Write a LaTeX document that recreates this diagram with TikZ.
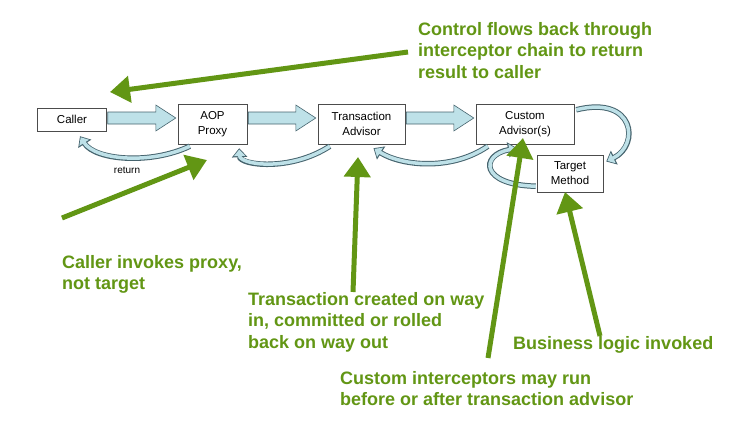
\documentclass[tikz,border=0pt]{standalone}
\usepackage{fontspec}
\setmainfont{Liberation Sans}
\usetikzlibrary{arrows.meta,calc}
\definecolor{grn}{RGB}{98,150,20}
\definecolor{lb}{RGB}{190,225,232}
\definecolor{ol}{RGB}{70,100,110}
\begin{document}
\begin{tikzpicture}[x=1pt,y=-1pt,
 box/.style={draw=black!70,fill=white,align=center,font=\fontsize{11.5}{15}\selectfont,inner sep=2pt},
 note/.style={text=grn,font=\bfseries\fontsize{18}{21.5}\selectfont,align=left,anchor=north west,inner sep=0pt},
 garrow/.style={draw=grn,line width=5pt,-{Triangle[length=20pt,width=26pt]}},
 ret/.style={line width=5.5pt,draw=ol,-{Triangle[length=9pt,width=15pt]}},
 reti/.style={line width=3.5pt,draw=lb,-{Triangle[length=6.5pt,width=11pt]},shorten >=1.3pt},
 blk/.style={fill=lb,draw=ol,line width=0.6pt}]
\useasboundingbox (0,0) rectangle (743,434);
\node[box,minimum width=69pt,minimum height=23pt] (caller) at (72,119.5) {Caller};
\node[box,minimum width=69pt,minimum height=40pt] (aop) at (212.5,124) {AOP\\Proxy};
\node[box,minimum width=87pt,minimum height=40pt] (tx) at (361.5,124) {Transaction\\Advisor};
\node[box,minimum width=98pt,minimum height=40pt] (cust) at (525,124) {Custom\\Advisor(s)};
\node[box,minimum width=66pt,minimum height=37pt] (tgt) at (570,173.5) {Target\\Method};
\node[font=\fontsize{10}{12}\selectfont] (rl) at (127,170) {return};
% block arrows
\foreach \a/\b in {caller/aop,aop/tx,tx/cust}{
 \path let \p1=(\a.east), \p2=(\b.west) in
  [blk] (\x1+1,112) -- (\x2-22,112) -- (\x2-22,105) -- (\x2-2,118) -- (\x2-22,131) -- (\x2-22,124) -- (\x1+1,124) -- cycle;
}
% return arrows
\foreach \s in {ret,reti}{
 \draw[\s] ($(aop.south west)+(12,2)$) .. controls (150,165) and (95,160) .. ($(caller.south)+(8,5)$);
 \draw[\s] ($(tx.south west)+(12,2)$) .. controls (290,172) and (240,165) .. ($(aop.south east)+(-8,4)$);
 \draw[\s] ($(cust.south west)+(12,2)$) .. controls (450,172) and (400,165) .. ($(tx.south)+(12,4)$);
 \draw[\s] ($(cust.north east)+(2,6)$) .. controls (635,95) and (640,145) .. ($(tgt.east)+(3,-12)$);
 \draw[\s] ($(tgt.south west)+(-1,-6)$) .. controls (480,185) and (480,155) .. ($(cust.south)+(-8,4)$);
}
% notes
\node[note] (n1) at (418,22) {Control flows back through\\interceptor chain to return\\result to caller};
\node[note] (n2) at (62,255) {Caller invokes proxy,\\not target};
\node[note] (n3) at (248,292) {Transaction created on way\\in, committed or rolled\\back on way out};
\node[note] (n4) at (513,336) {Business logic invoked};
\node[note] (n5) at (340,371) {Custom interceptors may run\\before or after transaction advisor};
\coordinate (g1s) at (408,52); \coordinate (g1e) at (110,92);
\coordinate (g2s) at (62,218); \coordinate (g2e) at (207,160);
\coordinate (g3s) at (353,292); \coordinate (g3e) at (358,157);
\coordinate (g4s) at (488,358); \coordinate (g4e) at (523,138);
\coordinate (g5s) at (600,336); \coordinate (g5e) at (565,192);
\foreach \i in {1,...,5}{\draw[garrow] (g\i s) -- (g\i e);}
\end{tikzpicture}
\end{document}
